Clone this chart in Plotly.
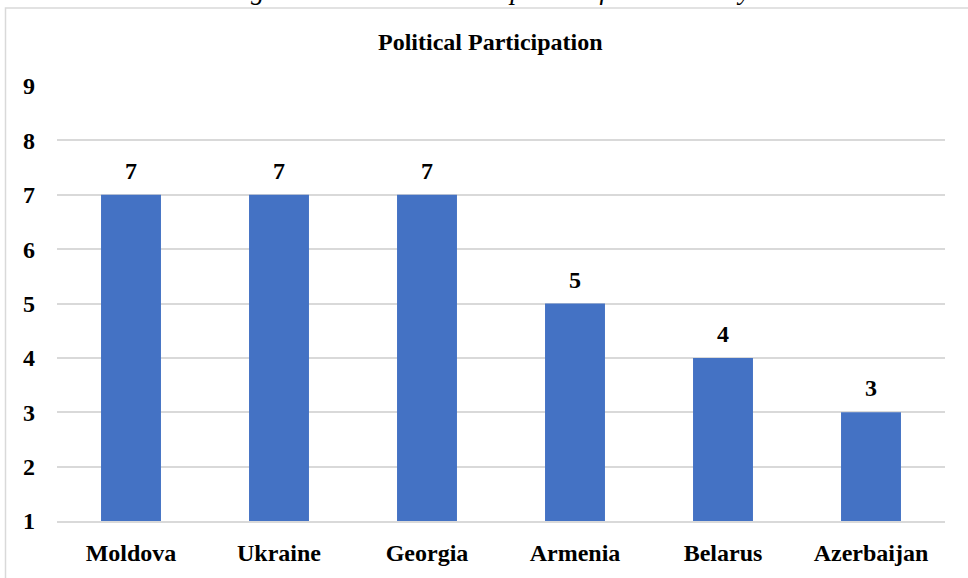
import plotly.graph_objects as go

# Political participation scores by country
countries = ["Moldova", "Ukraine", "Georgia", "Armenia", "Belarus", "Azerbaijan"]
scores = [7, 7, 7, 5, 4, 3]
y_ticks = [1, 2, 3, 4, 5, 6, 7, 8, 9]

W, H = 968, 578
L, R, T, B = 57, 23, 86, 54
plot_w = W - L - R
plot_h = H - T - B

FONT = "Liberation Serif, Times New Roman, serif"
BLUE = "#4472C4"
GRID = "#D9D9D9"
FS = 24


def px_to_paper_x(px):
    return (px - L) / plot_w


def px_to_paper_y(py):
    return (H - B - py) / plot_h


fig = go.Figure(
    go.Bar(
        x=countries,
        y=[s - 1 for s in scores],
        base=1,
        marker=dict(color=BLUE, line=dict(width=0)),
        hoverinfo="skip",
    )
)

# value labels above each bar
for c, s in zip(countries, scores):
    fig.add_annotation(
        x=c, y=s, xref="x", yref="y",
        text=f"<b>{s}</b>", showarrow=False,
        yanchor="bottom", yshift=9,
        font=dict(family=FONT, size=FS, color="#000000"),
    )

# chart title
fig.add_annotation(
    x=px_to_paper_x(490), y=px_to_paper_y(42), xref="paper", yref="paper",
    text="<b>Political Participation</b>", showarrow=False,
    xanchor="center", yanchor="middle",
    font=dict(family=FONT, size=FS, color="#000000"),
)

# figure caption above the chart frame
fig.add_annotation(
    x=px_to_paper_x(488), y=px_to_paper_y(6), xref="paper", yref="paper",
    text="<i>Figure 4: Political Participation of Civil Society</i>", showarrow=False,
    xanchor="center", yanchor="bottom",
    font=dict(family=FONT, size=27, color="#000000"),
)

# chart frame
fig.add_shape(
    type="rect", xref="paper", yref="paper",
    x0=px_to_paper_x(5.5), x1=px_to_paper_x(990),
    y0=px_to_paper_y(600), y1=px_to_paper_y(7.5),
    line=dict(color=GRID, width=1.5), fillcolor="rgba(0,0,0,0)", layer="below",
)

fig.update_layout(
    width=W, height=H,
    margin=dict(l=L, r=R, t=T, b=B, pad=0),
    paper_bgcolor="white", plot_bgcolor="white",
    showlegend=False,
    bargap=0.595,
    font=dict(family=FONT, color="#000000"),
    xaxis=dict(
        showgrid=False, showline=True, linecolor=GRID, linewidth=1.5,
        ticks="", tickfont=dict(family=FONT, size=FS, color="#000000"),
        tickprefix="<b>", ticksuffix="</b>", ticklabelstandoff=9,
    ),
    yaxis=dict(
        range=[1, 9], tickvals=y_ticks,
        ticktext=[f"<b>{v}</b>" for v in y_ticks],
        showgrid=True, gridcolor=GRID, gridwidth=1.5,
        zeroline=False, showline=False, ticks="",
        tickfont=dict(family=FONT, size=FS, color="#000000"),
        ticklabelstandoff=21,
    ),
)

fig.write_html("out.html")
